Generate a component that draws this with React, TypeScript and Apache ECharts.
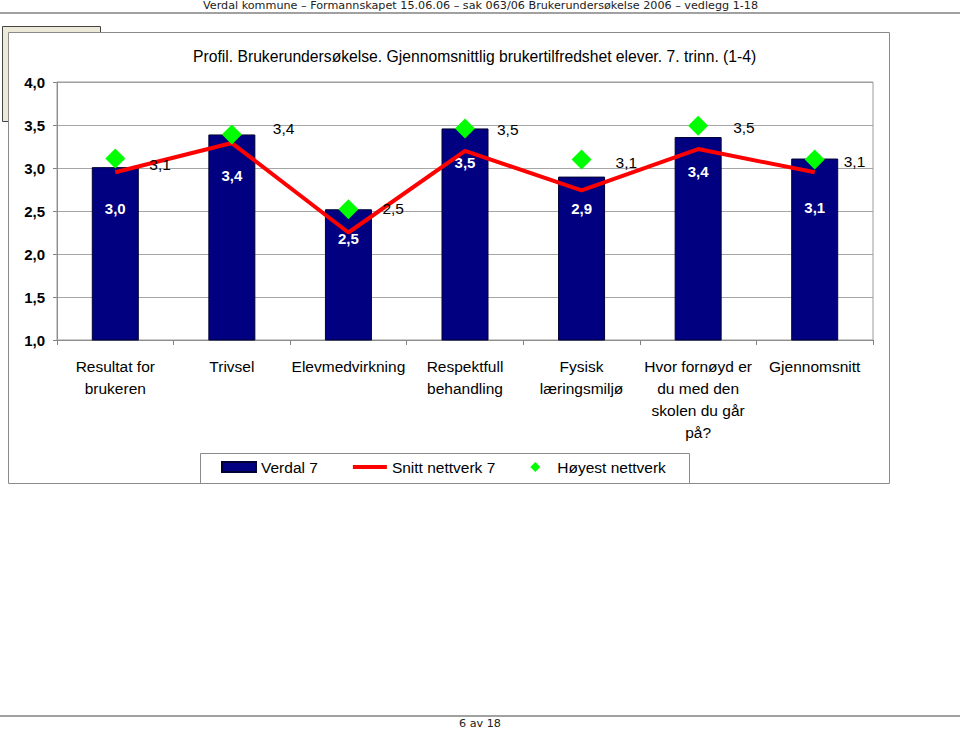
import React, { useEffect, useRef } from 'react';
import * as echarts from 'echarts';

const categories = [
  'Resultat for\nbrukeren',
  'Trivsel',
  'Elevmedvirkning',
  'Respektfull\nbehandling',
  'Fysisk\nlæringsmiljø',
  'Hvor fornøyd er\ndu med den\nskolen du går\npå?',
  'Gjennomsnitt',
];
const verdal7 = [3.01, 3.39, 2.52, 3.46, 2.9, 3.36, 3.11];
const snittNettverk7 = [2.95, 3.29, 2.25, 3.2, 2.74, 3.22, 2.95];
const hoyestNettverk = [3.11, 3.39, 2.52, 3.46, 3.1, 3.49, 3.1];
const seriesNames = ['Verdal 7', 'Snitt nettverk 7', 'Høyest nettverk'];
const yMin = 1;
const yMax = 4;
const yStep = 0.5;

const headerText =
  'Verdal kommune – Formannskapet 15.06.06 – sak 063/06 Brukerundersøkelse 2006 – vedlegg 1-18';
const titleText =
  'Profil. Brukerundersøkelse. Gjennomsnittlig brukertilfredshet elever. 7. trinn. (1-4)';
const footerText = '6 av 18';

// layout tweaks for labels (not data)
const barLabelDrop = [34, 34, 22, 27, 24, 27, 41];
const hoyestLabelShift = [
  [0, 6],
  [7, -6],
  [0, -1],
  [-2, 1],
  [0, 3],
  [1, 2],
  [-5, 2],
];

const SANS = "'Liberation Sans', Arial, sans-serif";
const VERD = "Verdana, 'DejaVu Sans', sans-serif";

const fmt = (v: number) => v.toFixed(1).replace('.', ',');

export default function App() {
  const ref = useRef<HTMLDivElement>(null);
  useEffect(() => {
    if (!ref.current) return;
    const chart = echarts.init(ref.current, undefined, { renderer: 'svg' });
    chart.setOption({
      animation: false,
      backgroundColor: '#ffffff',
      textStyle: { fontFamily: SANS },
      grid: {
        left: 57,
        right: 87,
        top: 82,
        bottom: 390,
        show: true,
        borderColor: '#9a9a9a',
        borderWidth: 1,
        backgroundColor: 'transparent',
        z: 1,
      },
      graphic: [
        {
          type: 'text',
          left: 203,
          top: 0,
          style: { text: headerText, fontFamily: VERD, fontSize: 11.2, fill: '#222' },
          z: 10,
        },
        {
          type: 'line',
          shape: { x1: 0, y1: 13, x2: 960, y2: 13 },
          style: { stroke: '#444', lineWidth: 1.2 },
          z: 10,
        },
        {
          type: 'rect',
          shape: { x: 2.5, y: 26.5, width: 98, height: 95 },
          style: { fill: '#ece9d8', stroke: '#444', lineWidth: 1 },
          z: -20,
          silent: true,
        },
        {
          type: 'rect',
          shape: { x: 8.5, y: 32.5, width: 881, height: 451 },
          style: { fill: '#ffffff', stroke: '#8a8a8a', lineWidth: 1 },
          z: -10,
          silent: true,
        },
        {
          type: 'text',
          left: 193,
          top: 48,
          style: { text: titleText, fontFamily: SANS, fontSize: 15.7, fill: '#000' },
          z: 10,
        },
        {
          type: 'rect',
          shape: { x: 200.5, y: 453.5, width: 489, height: 30 },
          style: { fill: '#ffffff', stroke: '#8a8a8a', lineWidth: 1 },
          z: -5,
          silent: true,
        },
        {
          type: 'line',
          shape: { x1: 0, y1: 716, x2: 960, y2: 716 },
          style: { stroke: '#444', lineWidth: 1.2 },
          z: 10,
        },
        {
          type: 'text',
          left: 459,
          top: 718,
          style: { text: footerText, fontFamily: VERD, fontSize: 11.2, fill: '#222' },
          z: 10,
        },
      ],
      legend: {
        left: 221,
        top: 459,
        padding: 0,
        itemGap: 35,
        itemWidth: 34,
        itemHeight: 10,
        symbolKeepAspect: true,
        textStyle: { fontFamily: SANS, fontSize: 15.5, color: '#000' },
        data: [
          { name: seriesNames[0], icon: 'rect' },
          { name: seriesNames[1], icon: 'path://M0,0L34,0L34,4L0,4Z' },
          { name: seriesNames[2], icon: 'path://M5,0L10,5L5,10L0,5Z' },
        ],
      },
      xAxis: {
        type: 'category',
        data: categories,
        axisLine: { show: true, lineStyle: { color: '#808080', width: 1 } },
        axisTick: { show: true, length: 5, lineStyle: { color: '#808080' } },
        axisLabel: {
          interval: 0,
          margin: 15,
          fontFamily: SANS,
          fontSize: 15.5,
          lineHeight: 22,
          color: '#000',
          align: 'center',
        },
        splitLine: { show: false },
      },
      yAxis: {
        type: 'value',
        min: yMin,
        max: yMax,
        interval: yStep,
        axisLine: { show: true, lineStyle: { color: '#808080', width: 1 } },
        axisTick: { show: true, length: 4, lineStyle: { color: '#808080' } },
        axisLabel: {
          margin: 12,
          fontFamily: SANS,
          fontSize: 15,
          fontWeight: 'bold',
          color: '#000',
          formatter: (v: number) => fmt(v),
        },
        splitLine: { show: true, lineStyle: { color: '#a6a6a6', width: 1 } },
      },
      series: [
        {
          name: seriesNames[0],
          type: 'bar',
          barWidth: 47,
          z: 2,
          itemStyle: { color: '#000080', borderColor: '#000033', borderWidth: 1 },
          label: {
            show: true,
            position: 'insideTop',
            color: '#ffffff',
            fontFamily: SANS,
            fontWeight: 'bold',
            fontSize: 15,
            formatter: (p: any) => fmt(p.value),
          },
          data: verdal7.map((v, i) => ({ value: v, label: { distance: barLabelDrop[i] } })),
        },
        {
          name: seriesNames[1],
          type: 'line',
          symbol: 'none',
          z: 3,
          lineStyle: { color: '#ff0000', width: 4 },
          itemStyle: { color: '#ff0000' },
          data: snittNettverk7,
        },
        {
          name: seriesNames[2],
          type: 'scatter',
          symbol: 'diamond',
          symbolSize: 20,
          z: 4,
          itemStyle: { color: '#00ff00', opacity: 1 },
          label: {
            show: true,
            position: 'right',
            distance: 24,
            color: '#000',
            opacity: 1,
            fontFamily: SANS,
            fontSize: 15.5,
            formatter: (p: any) => fmt(p.value),
          },
          data: hoyestNettverk.map((v, i) => ({
            value: v,
            label: { offset: hoyestLabelShift[i] },
          })),
        },
      ],
    });
    return () => chart.dispose();
  }, []);
  return (
    <div
      ref={ref}
      style={{ position: 'absolute', left: 0, top: 0, width: 960, height: 730, background: '#fff' }}
    />
  );
}
